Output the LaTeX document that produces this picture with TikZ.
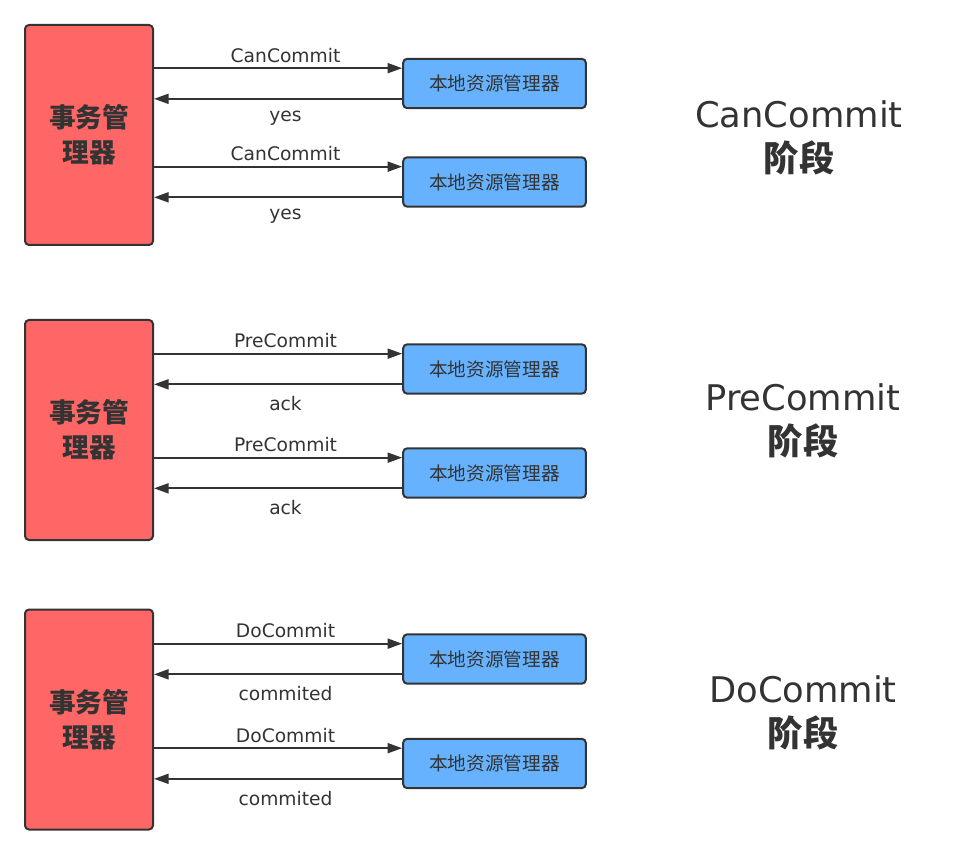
\documentclass[tikz,border=0pt]{standalone}
\usepackage{fontspec}
\setmainfont{DejaVu Sans}
\newfontfamily\cjk{Noto Sans CJK SC}
\usetikzlibrary{arrows.meta}
\definecolor{mgrred}{HTML}{FF6666}
\definecolor{rmblue}{HTML}{66B2FF}
\definecolor{ink}{HTML}{333333}
\tikzset{
  mgr/.style={draw=ink,fill=mgrred,line width=1.5pt,rounded corners=3pt,
    minimum width=96pt,minimum height=165pt,align=center,text=ink,
    font=\cjk\bfseries\fontsize{20}{26}\selectfont},
  rm/.style={draw=ink,fill=rmblue,line width=1.5pt,rounded corners=3pt,
    minimum width=137pt,minimum height=37pt,text=ink,
    font=\cjk\fontsize{14}{16}\selectfont},
  msg/.style={draw=ink,line width=1.5pt,-{Triangle[length=11pt,width=7.5pt]}},
  lbl/.style={font=\fontsize{14}{16}\selectfont,text=ink},
  phase/.style={align=center,text=ink,font=\fontsize{26.5}{33}\selectfont}
}
\begin{document}
\begin{tikzpicture}[x=0.75pt,y=-0.75pt]
\useasboundingbox (0,0) rectangle (956,855);
\foreach \g/\ym/\ya/\yb/\req/\rep/\xp/\yp in
  {1/135/83.5/182/CanCommit/yes/799/138,
   2/430/369/473/PreCommit/ack/803/421,
   3/719.5/659/763.5/DoCommit/commited/803/713}{
  % manager and the two resource managers
  \node[mgr] (mgr\g) at (89,\ym) {事务管\\理器};
  \node[rm] (rma\g) at (494.5,\ya) {本地资源管理器};
  \node[rm] (rmb\g) at (494.5,\yb) {本地资源管理器};
  \node[phase] (ph\g) at (\xp,\yp) {\req\\{\cjk\bfseries 阶段}};
  % messages
  \foreach \r in {rma\g,rmb\g}{
    \draw[msg] ([yshift=11.5pt]mgr\g.east |- \r.west) -- ([yshift=11.5pt]\r.west)
      node[lbl,pos=0.53,above] {\req};
    \draw[msg] ([yshift=-11.5pt]\r.west) -- ([yshift=-11.5pt]mgr\g.east |- \r.west)
      node[lbl,pos=0.47,below=5pt] {\rep};
  }
}
\end{tikzpicture}
\end{document}
